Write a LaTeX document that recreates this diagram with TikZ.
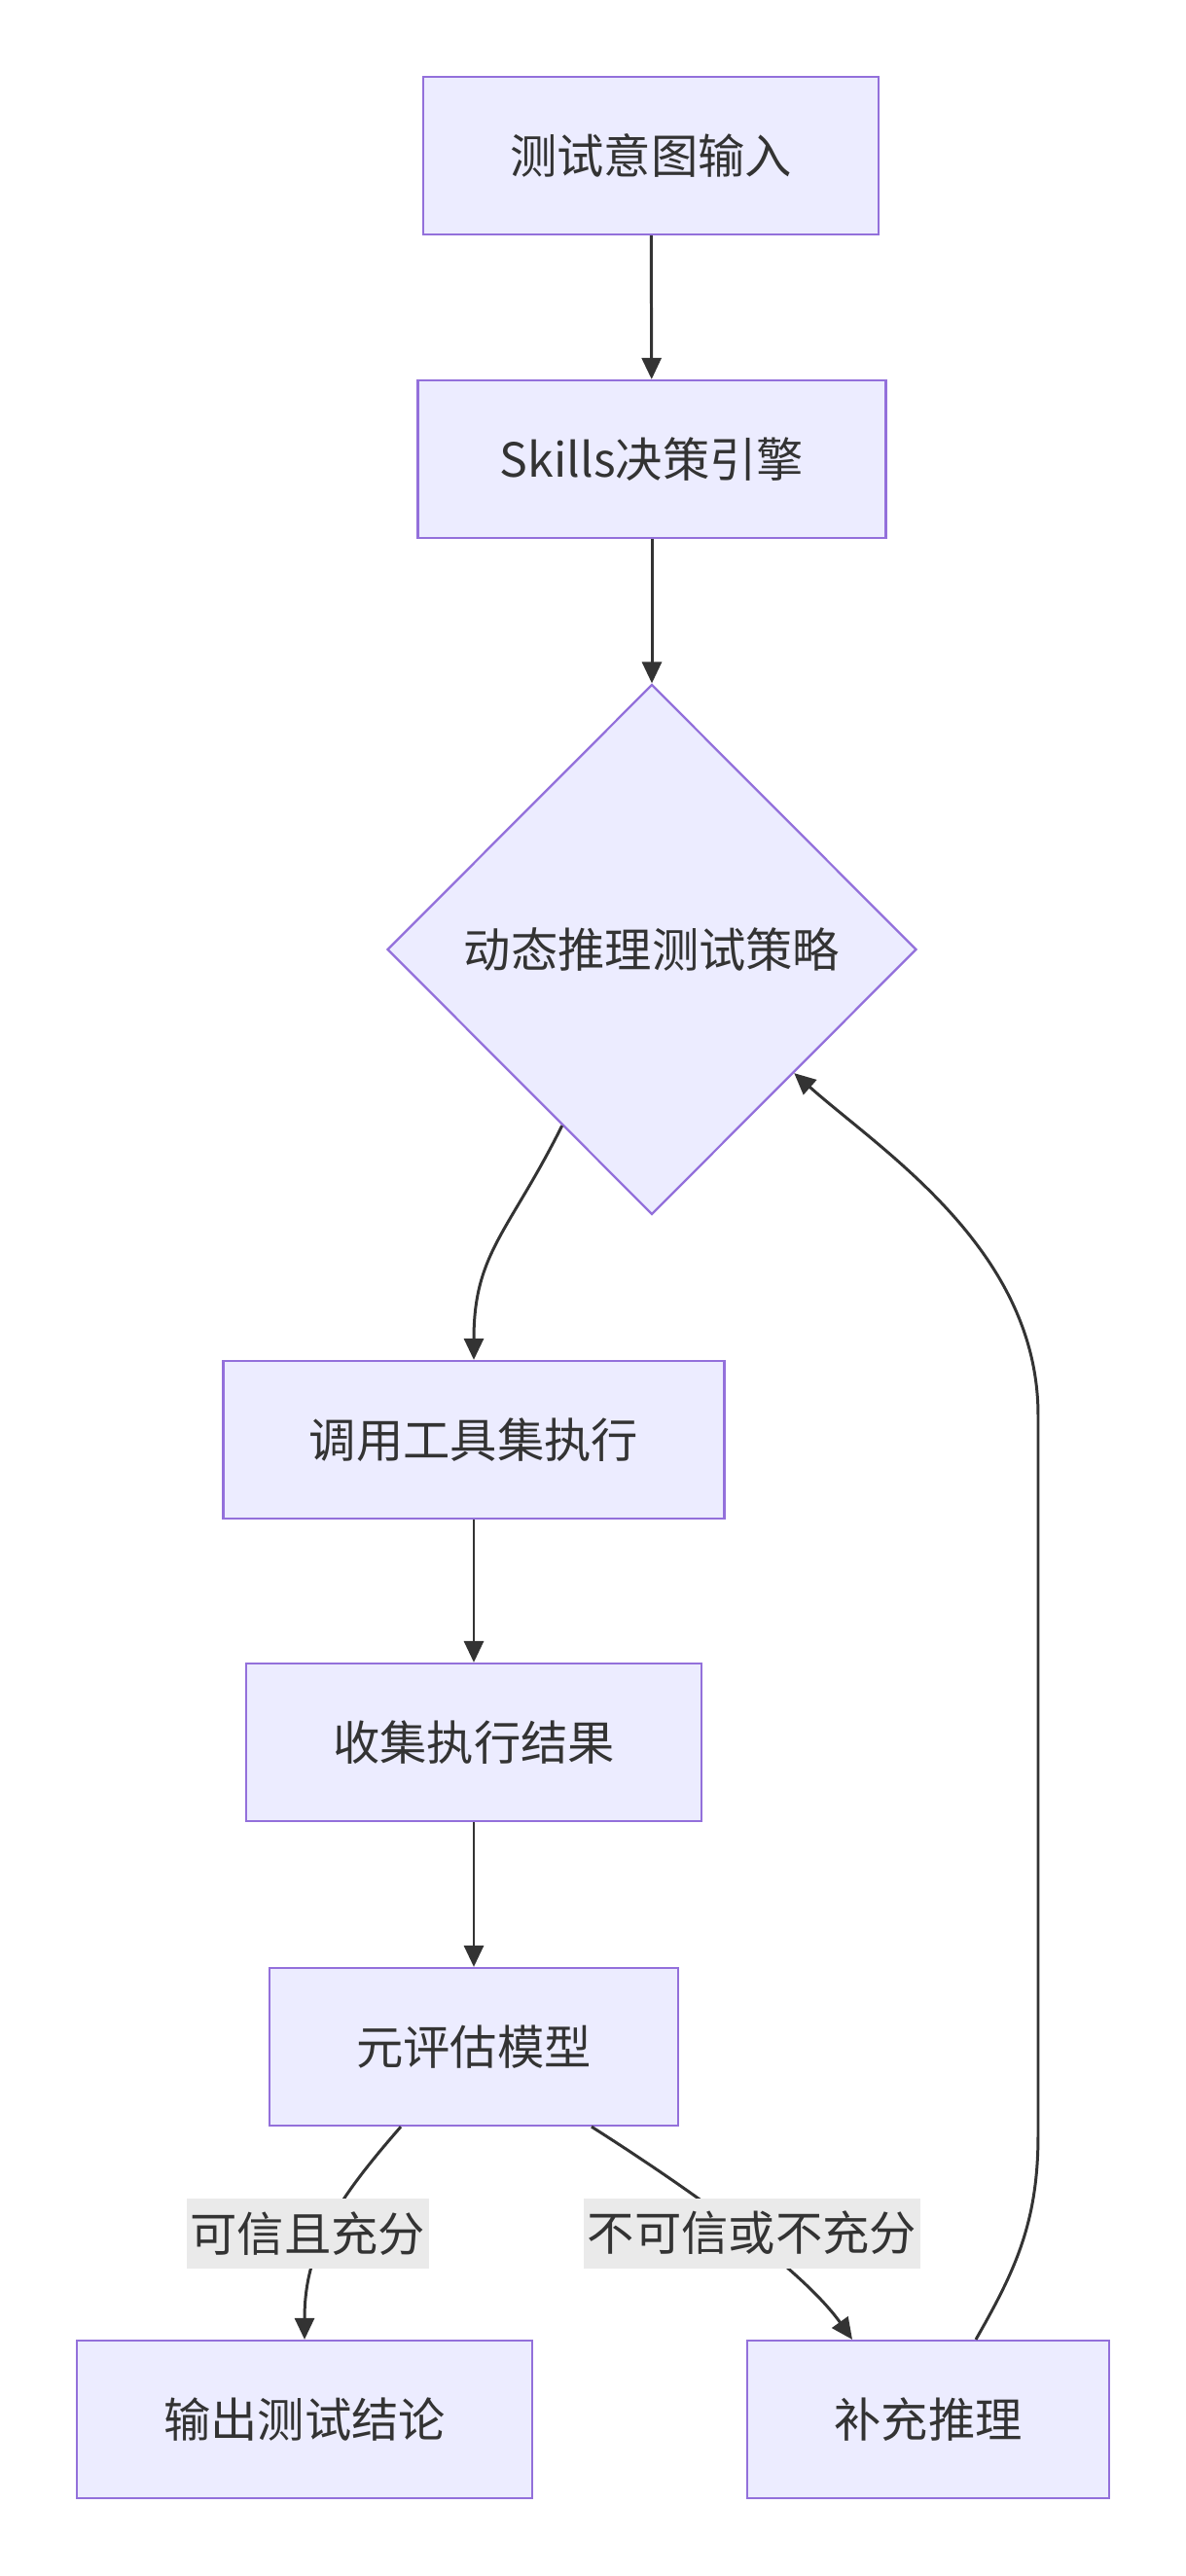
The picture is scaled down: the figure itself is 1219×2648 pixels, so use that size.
\documentclass[tikz,border=0pt]{standalone}
\usepackage{fontspec}
\setmainfont{Noto Sans CJK SC}
\usepackage{xcolor}
\usepackage{tikz}
\usetikzlibrary{arrows.meta,positioning,shapes.geometric,calc}
\definecolor{MerFill}{HTML}{ECECFF}
\definecolor{MerEdge}{HTML}{9370DB}
\definecolor{MerLine}{HTML}{333333}
\definecolor{MerLbl}{HTML}{EAEAEA}
\tikzset{
  flow/box/.style={draw=MerEdge, fill=MerFill, line width=1.3pt, text=MerLine, minimum height=3.24cm, align=center, font=\fontsize{27.5}{33}\selectfont},
  flow/choice/.style={flow/box, diamond, aspect=1, minimum width=10.88cm, minimum height=10.9cm, inner sep=0pt},
  flow/line/.style={draw=MerLine, line width=1.7pt},
  flow/arr/.style={flow/line, -{Triangle[length=4.4mm, width=4mm]}},
  flow/lbl/.style={fill=MerLbl, text=MerLine, inner xsep=2pt, inner ysep=0pt, minimum height=1.44cm, font=\fontsize{27.5}{33}\selectfont}
}
\begin{document}
\begin{tikzpicture}[x=0.02cm, y=-0.02cm]
  \useasboundingbox (0,0) rectangle (1219,2648);

  \node[flow/box, minimum width=9.36cm] (intent) at (669,160) {测试意图输入};
  \node[flow/box, minimum width=9.62cm] (skills) at (670,472) {Skills决策引擎};
  \node[flow/choice] (plan) at (670,976) {动态推理测试策略};
  \node[flow/box, minimum width=10.3cm] (tools) at (487,1480) {调用工具集执行};
  \node[flow/box, minimum width=9.36cm] (collect) at (487,1791) {收集执行结果};
  \node[flow/box, minimum width=8.4cm] (meta) at (487,2104) {元评估模型};
  \node[flow/box, minimum width=9.36cm] (verdict) at (313,2487) {输出测试结论};
  \node[flow/box, minimum width=7.44cm] (extra) at (954,2487) {补充推理};

  \draw[flow/arr] (intent) -- (skills);
  \draw[flow/arr] (skills) -- (plan);

  \draw[flow/arr] (plan.243) .. controls +(-55,110) and +(0,-110) .. (tools.north);
  \draw[flow/arr] (tools) -- (collect);
  \draw[flow/arr] (collect) -- (meta);

  \draw[flow/arr] ([xshift=-1.5cm]meta.south) .. controls +(-70,80) and +(0,-90) .. (verdict.north)
    node[flow/lbl, pos=0.52, xshift=-0.36cm] {可信且充分};
  \draw[flow/arr] ([xshift=2.42cm]meta.south) .. controls +(110,70) and +(-50,-70) .. ([xshift=-1.56cm]extra.north)
    node[flow/lbl, pos=0.5, xshift=0.17cm] {不可信或不充分};

  % loop back to the strategy
  \draw[flow/arr] ([xshift=0.98cm]extra.north) .. controls +(40,-70) and +(0,90) .. ++(64,-210)
    -- ++(0,-740) .. controls +(0,-170) and +(90,80) .. (plan.-41);
\end{tikzpicture}
\end{document}
